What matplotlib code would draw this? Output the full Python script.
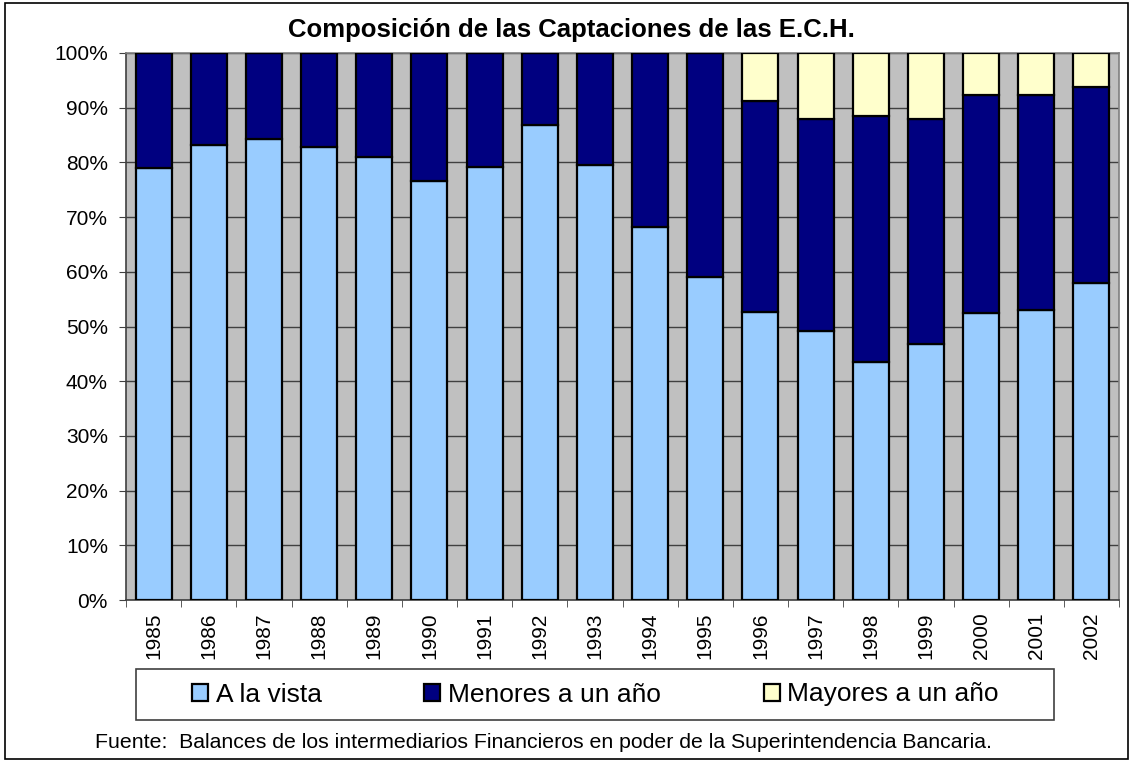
import matplotlib.pyplot as plt
import numpy as np
from matplotlib.patches import Rectangle

years = ['1985', '1986', '1987', '1988', '1989', '1990', '1991', '1992', '1993',
         '1994', '1995', '1996', '1997', '1998', '1999', '2000', '2001', '2002']
a_la_vista = [79.0, 83.2, 84.2, 82.8, 80.9, 76.6, 79.1, 86.8, 79.5,
              68.1, 59.0, 52.7, 49.1, 43.5, 46.8, 52.5, 53.1, 57.9]
menores = [21.0, 16.8, 15.8, 17.2, 19.1, 23.4, 20.9, 13.2, 20.5,
           31.9, 41.0, 38.5, 38.8, 44.9, 41.1, 39.9, 39.3, 35.9]
mayores = [0, 0, 0, 0, 0, 0, 0, 0, 0,
           0, 0, 8.8, 12.1, 11.6, 12.1, 7.6, 7.6, 6.2]

W, H = 1132, 762
fig = plt.figure(figsize=(W / 100, H / 100), dpi=100)

def fig_box(x0, y0, x1, y1):
    # pixel box (top-left origin) -> figure fraction [left, bottom, width, height]
    return [x0 / W, (H - y1) / H, (x1 - x0) / W, (y1 - y0) / H]

b = fig_box(5, 3, 1128, 759)
fig.patches.append(Rectangle((b[0], b[1]), b[2], b[3], transform=fig.transFigure,
                             fill=False, edgecolor='black', linewidth=1.2))

font = ['Liberation Sans', 'DejaVu Sans']

ax = fig.add_axes(fig_box(126, 53, 1119, 600))
ax.set_facecolor('#C0C0C0')

x = np.arange(len(years))
v = np.array(a_la_vista)
m = np.array(menores)
y = np.array(mayores)
bw = 0.65
ax.bar(x, v, bw, color='#99CCFF', edgecolor='black', linewidth=1.6, label='A la vista', zorder=3)
ax.bar(x, m, bw, bottom=v, color='#000080', edgecolor='black', linewidth=1.6,
       label='Menores a un año', zorder=3)
ax.bar(x, y, bw, bottom=v + m, color='#FFFFCC', edgecolor='black', linewidth=1.6,
       label='Mayores a un año', zorder=3)

ax.set_xlim(-0.5, len(years) - 0.5)
ax.set_ylim(0, 100)
ax.set_yticks(np.arange(0, 101, 10))
ax.set_yticklabels([f'{t}%' for t in range(0, 101, 10)], family=font, fontsize=15)
ax.yaxis.grid(True, color='#404040', linewidth=1.0, zorder=0)
ax.set_axisbelow(True)

ax.set_xticks(x)
ax.set_xticklabels(years, rotation=90, family=font, fontsize=15)
ax.set_xticks(np.arange(-0.5, len(years)), minor=True)
ax.tick_params(axis='x', which='major', length=0, pad=9)
ax.tick_params(axis='x', which='minor', length=5, color='#404040')
ax.tick_params(axis='y', length=5, color='#404040', pad=8)

for s in ax.spines.values():
    s.set_color('#808080')
    s.set_linewidth(1.2)
ax.spines['left'].set_color('#404040')
ax.spines['bottom'].set_color('#404040')

fig.text(571 / W, 1 - 30 / H, 'Composición de las Captaciones de las E.C.H.',
         ha='center', va='center', family=font, fontsize=18.5, fontweight='bold')

# legend frame drawn separately, entries spread across the inner part
lb = fig_box(136, 669, 1054, 720)
fig.patches.append(Rectangle((lb[0], lb[1]), lb[2], lb[3], transform=fig.transFigure,
                             facecolor='white', edgecolor='#404040', linewidth=1.2, zorder=1))
ib = fig_box(192, 669, 999, 720)
leg = fig.legend(loc='center', bbox_to_anchor=ib, mode='expand', ncol=3, frameon=False,
                 prop={'family': font, 'size': 19}, handlelength=0.6, handleheight=0.6,
                 handletextpad=0.3, borderaxespad=0, borderpad=0)
leg.set_zorder(2)

fig.text(95 / W, 1 - 742 / H,
         'Fuente:  Balances de los intermediarios Financieros en poder de la Superintendencia Bancaria.',
         ha='left', va='center', family=font, fontsize=15.3)

fig.savefig('out.png', dpi=100)
